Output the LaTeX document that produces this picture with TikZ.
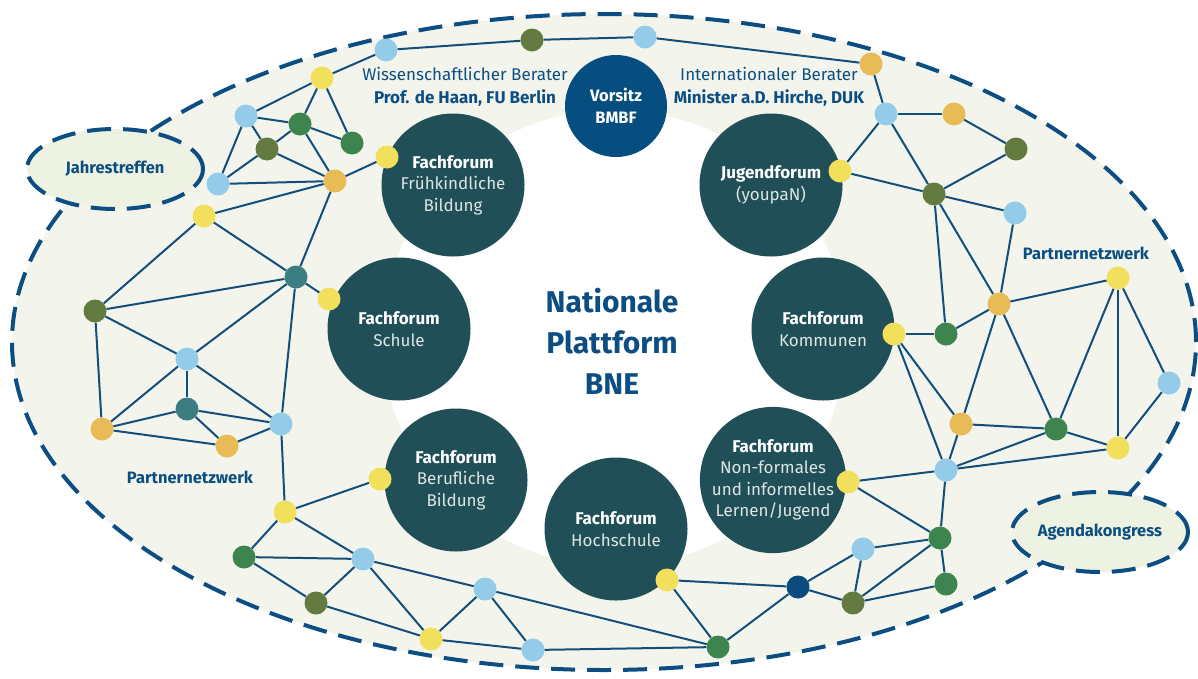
\documentclass[tikz,border=0pt]{standalone}
\usepackage{fontspec}
\setmainfont{Fira Sans}
\usetikzlibrary{shapes.geometric}
\definecolor{dblue}{HTML}{0D4E82}
\definecolor{edgec}{HTML}{144E7A}
\definecolor{cream}{HTML}{F3F5EC}
\definecolor{creamb}{HTML}{EEF2E2}
\definecolor{ffteal}{HTML}{214F58}
\definecolor{vblue}{HTML}{064E80}
\definecolor{cyel}{HTML}{F2DF5B}
\definecolor{cblu}{HTML}{94CBE9}
\definecolor{cgrn}{HTML}{3D844F}
\definecolor{coli}{HTML}{637B40}
\definecolor{cora}{HTML}{E8BB56}
\definecolor{ctea}{HTML}{3C7D81}
\definecolor{cnav}{HTML}{0B4B80}
\definecolor{lgray}{HTML}{DDE5E4}
\begin{document}
\begin{tikzpicture}[x=1pt,y=-1pt,
  edge/.style={draw=edgec,line width=2pt},
  sn/.style={circle,minimum size=23pt,inner sep=0pt},
  ff/.style={circle,fill=ffteal,minimum size=143pt,inner sep=0pt,text=white,align=center,font=\fontsize{17}{21.5}\selectfont},
  dsh/.style={draw=dblue,line width=4pt,dash pattern=on 24pt off 12pt},
  lbl/.style={text=dblue,align=center,font=\fontsize{17}{22.5}\selectfont},
  bub/.style={ellipse,fill=creamb,dsh,minimum width=176pt,minimum height=80pt,inner sep=0pt,text=dblue,font=\bfseries\fontsize{16.5}{20}\selectfont},
]
\useasboundingbox (0,0) rectangle (1198,678);
% background shapes
\fill[cream] (604,342) ellipse [x radius=592pt,y radius=328pt];
\draw[dsh] (604,342) ellipse [x radius=592pt,y radius=328pt];
\node[bub] (jt) at (115,169) {Jahrestreffen};
\node[bub] (ak) at (1100,532) {Agendakongress};
\fill[white] (614,338) ellipse [x radius=232pt,y radius=228pt];

% big circles
\node[circle,fill=vblue,minimum size=102pt,inner sep=0pt,text=white,align=center,font=\bfseries\fontsize{16.5}{22}\selectfont] (vs) at (616,106) {Vorsitz\\BMBF};
\node[ff] (fk) at (453,185) {\textbf{Fachforum}\\\textcolor{lgray}{Frühkindliche}\\\textcolor{lgray}{Bildung}};
\node[ff] (jf) at (771,185) {\textbf{Jugendforum}\\\textcolor{lgray}{(youpaN)}};
\node[ff] (fs) at (399,329) {\textbf{Fachforum}\\\textcolor{lgray}{Schule}};
\node[ff] (fko) at (823,329) {\textbf{Fachforum}\\\textcolor{lgray}{Kommunen}};
\node[ff] (fb) at (456,480) {\textbf{Fachforum}\\\textcolor{lgray}{Berufliche}\\\textcolor{lgray}{Bildung}};
\node[ff] (fn) at (773,480) {\textbf{Fachforum}\\\textcolor{lgray}{Non-formales}\\\textcolor{lgray}{und informelles}\\\textcolor{lgray}{Lernen/Jugend}};
\node[ff] (fh) at (616,529) {\textbf{Fachforum}\\\textcolor{lgray}{Hochschule}};

% labels
\node[lbl] (wb) at (465,87) {Wissenschaftlicher Berater\\\textbf{Prof. de Haan, FU Berlin}};
\node[lbl] (ib) at (769,87) {Internationaler Berater\\\textbf{Minister a.D. Hirche, DUK}};
\node[text=dblue,align=center,font=\bfseries\fontsize{30}{41}\selectfont] (np) at (612,341) {Nationale\\Plattform\\BNE};
\node[text=dblue,font=\bfseries\fontsize{16.5}{20}\selectfont] (pl) at (190,477) {Partnernetzwerk};
\node[text=dblue,font=\bfseries\fontsize{16.5}{20}\selectfont] (pr) at (1086,253) {Partnernetzwerk};

% small nodes
\foreach \n/\c/\x/\y in {
 Y1/cyel/322/78, B1/cblu/386/50, O1/coli/532/40, B2/cblu/645/37, G1/cora/871/64,
 B3/cblu/246/116, DG1/cgrn/300/124, OL1/coli/267/149, DG2/cgrn/352/143, B4/cblu/218/184,
 OR1/cora/335/181, Y2/cyel/387/157, Y3/cyel/204/216, T1/ctea/296/277, Y4/cyel/329/299,
 OL2/coli/95/311, B5/cblu/187/359, T2/ctea/187/409, OR2/cora/102/429, OR3/cora/227/446,
 B6/cblu/281/424, Y5/cyel/285/512, Y6/cyel/380/479, DG3/cgrn/244/557, B7/cblu/363/559,
 OL3/coli/316/603, Y7/cyel/431/639, B8/cblu/485/589, B9/cblu/533/650, DG4/cgrn/718/647,
 Y8/cyel/667/580, NV/cnav/798/587, B10/cblu/863/549, OL4/coli/853/603, DG5/cgrn/940/538,
 DG6/cgrn/946/584, Y9/cyel/848/482, B11/cblu/946/470, Y10/cyel/1118/448, DG7/cgrn/1056/429,
 OR5/cora/961/424, B12/cblu/1169/383, Y12/cyel/1118/278, OR4/cora/999/304, DG8/cgrn/946/334,
 Y11/cyel/894/334, B13/cblu/1015/213, OL5/coli/934/194, OL6/coli/1016/149, OR6/cora/954/114,
 B14/cblu/886/114, Y13/cyel/840/171}
 \node[sn,fill=\c] (\n) at (\x,\y) {};

% edges
\foreach \a/\b in {
 Y1/B1, B1/O1, O1/B2, B2/G1, G1/B14,
 Y1/B3, Y1/DG1, Y1/DG2, B3/DG1, B3/OL1, B3/B4, OL1/DG1, DG1/DG2, DG1/OR1, OL1/OR1, OL1/B4,
 B4/OR1, OR1/Y2, Y3/OR1, OR1/T1, Y3/OL2, Y3/T1,
 T1/Y4, OL2/T1, OL2/B5, B5/T1, OL2/OR2, T1/B6, B5/OR2, B5/T2, B5/B6, OR2/T2, T2/B6, T2/OR3,
 OR2/OR3, OR3/B6, B6/Y5,
 Y5/Y6, Y5/DG3, Y5/B7, DG3/B7, DG3/OL3, B7/OL3, B7/Y7, B7/B8, OL3/Y7, Y7/B8, Y7/B9, B8/B9,
 B8/DG4, B9/DG4,
 Y8/DG4, Y8/NV, DG4/NV, NV/B10, NV/OL4, B10/OL4, B10/DG5, OL4/DG5, OL4/DG6, DG5/DG6,
 Y9/B11, Y9/DG5, B11/DG5, B11/Y11, B11/OR5, B11/Y10, B11/DG7,
 Y11/DG8, DG8/OR4, DG8/OL5, OR4/OL5, OR4/B13, OR4/Y12, OR4/OR5, OR4/DG7, Y12/DG7, Y12/Y10,
 Y12/B12, B12/Y10, Y11/OR5, OR5/DG7, DG7/Y10,
 B14/OR6, OR6/OL6, B14/Y13, B14/OL5, Y13/OL5, OL5/OL6, OL5/B13}
 \draw[edge] (\a) -- (\b);
\end{tikzpicture}
\end{document}
